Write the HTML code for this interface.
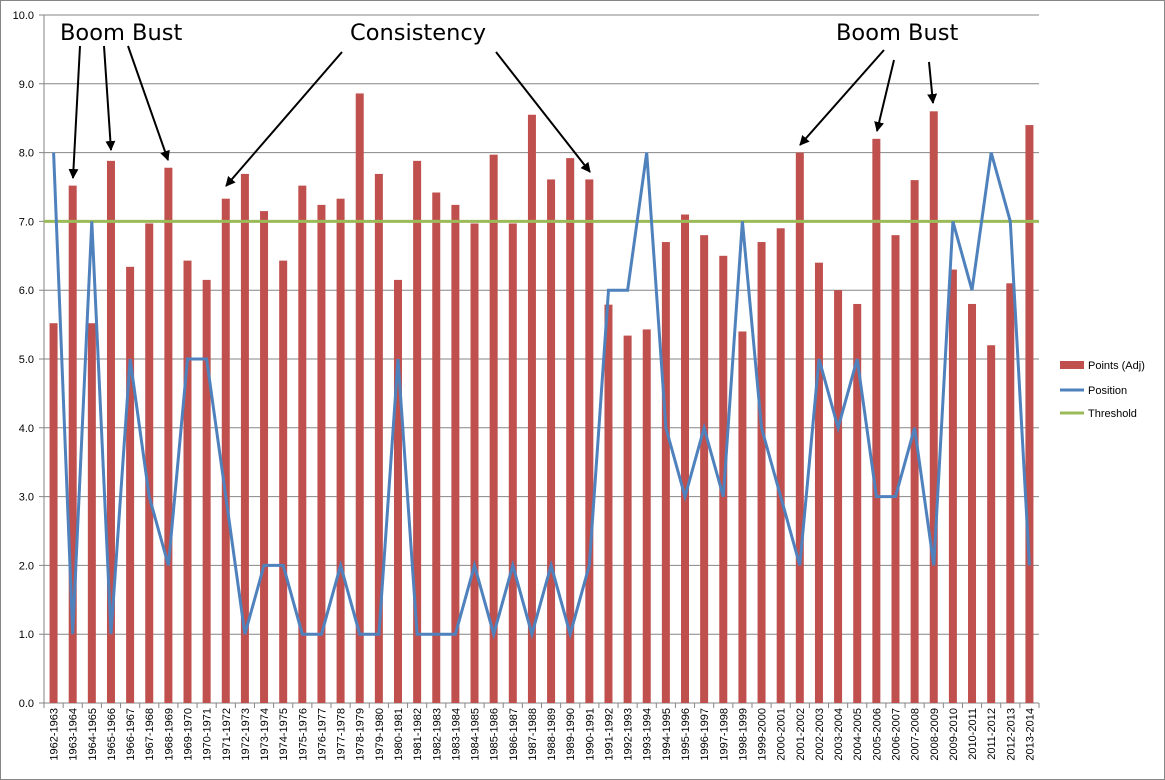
<!DOCTYPE html><html><head><style>body{margin:0;background:#fff}svg{display:block;font-family:"Liberation Sans",sans-serif}</style></head><body>
<svg id="s" width="1165" height="780" xmlns="http://www.w3.org/2000/svg">
<defs><marker id="a" markerWidth="10" markerHeight="10" refX="9" refY="5" orient="auto" markerUnits="userSpaceOnUse" viewBox="0 0 10 10"><path d="M0,0 L10,5 L0,10 z" fill="#000"/></marker></defs>
<rect x="0.5" y="0.5" width="1164" height="779" fill="#fff" stroke="#868686"/>
<g id="g"></g>
<g font-family="DejaVu Sans, sans-serif" font-size="22.5" fill="#000">
<text x="60" y="40">Boom Bust</text><text x="350" y="40">Consistency</text><text x="836" y="40">Boom Bust</text></g>
<g stroke="#000" stroke-width="2" marker-end="url(#a)">
<line x1="80" y1="46" x2="73" y2="178"/><line x1="104" y1="46" x2="111" y2="150"/><line x1="128" y1="46" x2="168" y2="160"/>
<line x1="342" y1="52" x2="226" y2="186"/><line x1="496" y1="52" x2="590" y2="172"/>
<line x1="884" y1="50" x2="800" y2="145"/><line x1="894" y1="60" x2="877" y2="131"/><line x1="929" y1="62" x2="933" y2="103"/></g>
<g font-size="11" fill="#000"><rect x="1060" y="361" width="24" height="8" fill="#c0504d"/><text x="1088" y="369">Points (Adj)</text>
<line x1="1060" y1="390" x2="1084" y2="390" stroke="#4f81bd" stroke-width="3"/><text x="1088" y="394">Position</text>
<line x1="1060" y1="413" x2="1084" y2="413" stroke="#9bbb59" stroke-width="3"/><text x="1088" y="417">Threshold</text></g>
</svg>
<script>
var P=[5.52,7.52,5.52,7.88,6.34,6.97,7.78,6.43,6.15,7.33,7.69,7.15,6.43,7.52,7.24,7.33,8.86,7.69,6.15,7.88,7.42,7.24,6.97,7.97,6.97,8.55,7.61,7.92,7.61,5.79,5.34,5.43,6.7,7.1,6.8,6.5,5.4,6.7,6.9,8.0,6.4,6.0,5.8,8.2,6.8,7.6,8.6,6.3,5.8,5.2,6.1,8.4];
var Q=[8,1,7,1,5,3,2,5,5,3,1,2,2,1,1,2,1,1,5,1,1,1,2,1,2,1,2,1,2,6,6,8,4,3,4,3,7,4,3,2,5,4,5,3,3,4,2,7,6,8,7,2];
var L=44,R=1039,T=15,B=703,n=52,w=(R-L)/n,h=(B-T)/10,s='';
function y(v){return B-v*h}
for(var i=0;i<=10;i++){var yy=y(i);s+='<line x1="'+(L-5)+'" y1="'+yy+'" x2="'+R+'" y2="'+yy+'" stroke="#868686"/>';s+='<text x="34" y="'+(yy+4)+'" font-size="11" text-anchor="end">'+i.toFixed(1)+'</text>';}
s+='<line x1="'+L+'" y1="'+T+'" x2="'+L+'" y2="'+B+'" stroke="#868686"/>';
for(var i=0;i<n;i++){var cx=L+w*(i+.5);s+='<rect x="'+(cx-4)+'" y="'+y(P[i])+'" width="8" height="'+(P[i]*h)+'" fill="#c0504d"/>';
s+='<line x1="'+(L+w*i)+'" y1="'+B+'" x2="'+(L+w*i)+'" y2="'+(B+5)+'" stroke="#868686"/>';
var a=1962+i;s+='<text transform="translate('+(cx+4)+',708) rotate(-90)" font-size="11" text-anchor="end">'+a+'-'+(a+1)+'</text>';}
s+='<line x1="'+R+'" y1="'+B+'" x2="'+R+'" y2="'+(B+5)+'" stroke="#868686"/>';
s+='<line x1="'+L+'" y1="'+y(7)+'" x2="'+R+'" y2="'+y(7)+'" stroke="#9bbb59" stroke-width="3"/>';
var pts=Q.map(function(v,i){return (L+w*(i+.5)).toFixed(1)+','+y(v).toFixed(1)}).join(' ');
s+='<polyline points="'+pts+'" fill="none" stroke="#4f81bd" stroke-width="3" stroke-linejoin="miter"/>';
document.getElementById('g').innerHTML=s;
</script></body></html>
